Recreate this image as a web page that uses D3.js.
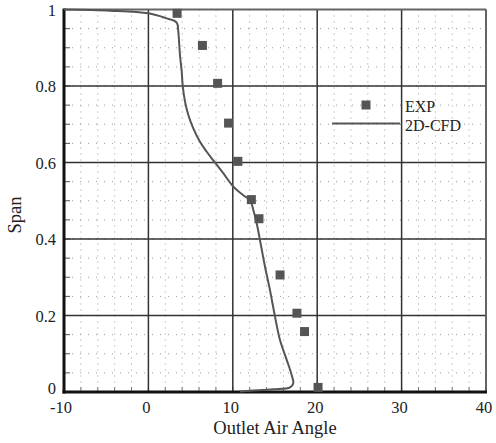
<!DOCTYPE html>
<html><head><meta charset="utf-8">
<script src="https://cdn.jsdelivr.net/npm/d3@7"></script>
<style>body{margin:0;background:#fff}svg{display:block}</style>
</head><body><svg id="c" width="496" height="443"></svg>
<script>
const expX = [3.4, 6.4, 8.2, 9.5, 10.6, 12.2, 13.1, 15.6, 17.6, 18.5, 20.1];
const expY = [0.99, 0.906, 0.807, 0.703, 0.603, 0.503, 0.453, 0.306, 0.206, 0.158, 0.012];
const cfdX = [-10, -4.5, 0, 2.0, 3.35, 3.54, 3.74, 3.95, 4.06, 4.34, 4.73, 5.32, 6.11, 6.91, 7.81, 8.87, 10.06, 11.45, 12.04, 12.43, 12.83, 13.22, 13.81, 14.4, 15.0, 15.59, 16.39, 16.98, 17.17, 16.78, 14.8, 12.04, 10.85];
const cfdY = [1.0, 0.997, 0.99, 0.978, 0.966, 0.942, 0.881, 0.837, 0.802, 0.759, 0.724, 0.689, 0.654, 0.628, 0.602, 0.572, 0.537, 0.511, 0.502, 0.476, 0.441, 0.397, 0.328, 0.267, 0.197, 0.136, 0.084, 0.044, 0.023, 0.012, 0.007, 0.003, 0.001];
const xTicks = [-10, 0, 10, 20, 30, 40];
const yTicks = [0, 0.2, 0.4, 0.6, 0.8, 1];
const xMinor = d3.range(-10, 40.001, 2);
const yMinor = d3.range(0, 1.0001, 0.05);
const legendLabels = ["EXP", "2D-CFD"];

const FONT = "'Liberation Serif', 'DejaVu Serif', serif";
const svg = d3.select("#c").attr("font-family", FONT);
const L = 64, R = 486, T = 9.5, B = 392;
const x = d3.scaleLinear().domain([-10, 40]).range([L, R]);
const y = d3.scaleLinear().domain([0, 1]).range([B, T]);

// minor dotted grid
svg.append("g").selectAll("line").data(xMinor).join("line")
  .attr("x1", d => x(d)).attr("x2", d => x(d)).attr("y1", T).attr("y2", B)
  .attr("stroke", "#9a9a9a").attr("stroke-width", 1).attr("stroke-dasharray", "1,5");
svg.append("g").selectAll("line").data(yMinor).join("line")
  .attr("y1", d => y(d)).attr("y2", d => y(d)).attr("x1", L).attr("x2", R)
  .attr("stroke", "#9a9a9a").attr("stroke-width", 1).attr("stroke-dasharray", "1,7");

// minor ticks
svg.append("g").selectAll("line").data(xMinor).join("line")
  .attr("x1", d => x(d)).attr("x2", d => x(d)).attr("y1", B).attr("y2", B - 5)
  .attr("stroke", "#777").attr("stroke-width", 1);
svg.append("g").selectAll("line").data(yMinor).join("line")
  .attr("y1", d => y(d)).attr("y2", d => y(d)).attr("x1", L).attr("x2", L + 6)
  .attr("stroke", "#555").attr("stroke-width", 1);

// major grid
svg.append("g").selectAll("line").data(xTicks).join("line")
  .attr("x1", d => x(d)).attr("x2", d => x(d)).attr("y1", T).attr("y2", B)
  .attr("stroke", "#333").attr("stroke-width", 1.5);
svg.append("g").selectAll("line").data(yTicks).join("line")
  .attr("y1", d => y(d)).attr("y2", d => y(d)).attr("x1", L).attr("x2", R)
  .attr("stroke", "#333").attr("stroke-width", 1.5);

// frame
svg.append("line").attr("x1", L).attr("x2", R).attr("y1", T).attr("y2", T).attr("stroke", "#666").attr("stroke-width", 1.5);
svg.append("line").attr("x1", R).attr("x2", R).attr("y1", T).attr("y2", B).attr("stroke", "#666").attr("stroke-width", 1.5);
svg.append("line").attr("x1", L).attr("x2", L).attr("y1", T - 1).attr("y2", B + 1.5).attr("stroke", "#111").attr("stroke-width", 3);
svg.append("line").attr("x1", L - 1.5).attr("x2", R + 1).attr("y1", B).attr("y2", B).attr("stroke", "#111").attr("stroke-width", 3);

// CFD line
const cfd = cfdX.map((v, i) => [v, cfdY[i]]);
svg.append("path").datum(cfd)
  .attr("d", d3.line().x(d => x(d[0])).y(d => y(d[1])).curve(d3.curveCatmullRom.alpha(0.5)))
  .attr("fill", "none").attr("stroke", "#555").attr("stroke-width", 2);

// EXP squares
const s = 9;
svg.append("g").selectAll("rect").data(expX.map((v, i) => [v, expY[i]])).join("rect")
  .attr("x", d => x(d[0]) - s / 2).attr("y", d => y(d[1]) - s / 2)
  .attr("width", s).attr("height", s).attr("fill", "#555");

// tick labels
svg.append("g").selectAll("text").data(xTicks).join("text")
  .attr("x", d => x(d) - (d < 0 ? 3 : 2)).attr("y", 413)
  .attr("text-anchor", "middle").attr("font-size", 16.5).attr("fill", "#222").text(d => d);
svg.append("g").selectAll("text").data(yTicks).join("text")
  .attr("x", 56).attr("y", d => y(d) + (d === 0 ? 2 : 6))
  .attr("text-anchor", "end").attr("font-size", 16.5).attr("fill", "#222").text(d => d);

// axis titles
svg.append("text").attr("x", 275).attr("y", 434).attr("text-anchor", "middle")
  .attr("font-size", 18.5).attr("fill", "#222").text("Outlet Air Angle");
svg.append("text").attr("transform", "translate(21,215) rotate(-90)").attr("text-anchor", "middle")
  .attr("font-size", 18.5).attr("fill", "#222").text("Span");

// legend
svg.append("rect").attr("x", 366 - s / 2).attr("y", 105 - s / 2).attr("width", s).attr("height", s).attr("fill", "#555");
svg.append("line").attr("x1", 332).attr("x2", 400).attr("y1", 123.5).attr("y2", 123.5).attr("stroke", "#555").attr("stroke-width", 2);
svg.append("g").selectAll("text").data(legendLabels).join("text")
  .attr("x", 405).attr("y", (d, i) => 112 + i * 19).attr("font-size", 16).attr("fill", "#222").text(d => d);
</script></body></html>
